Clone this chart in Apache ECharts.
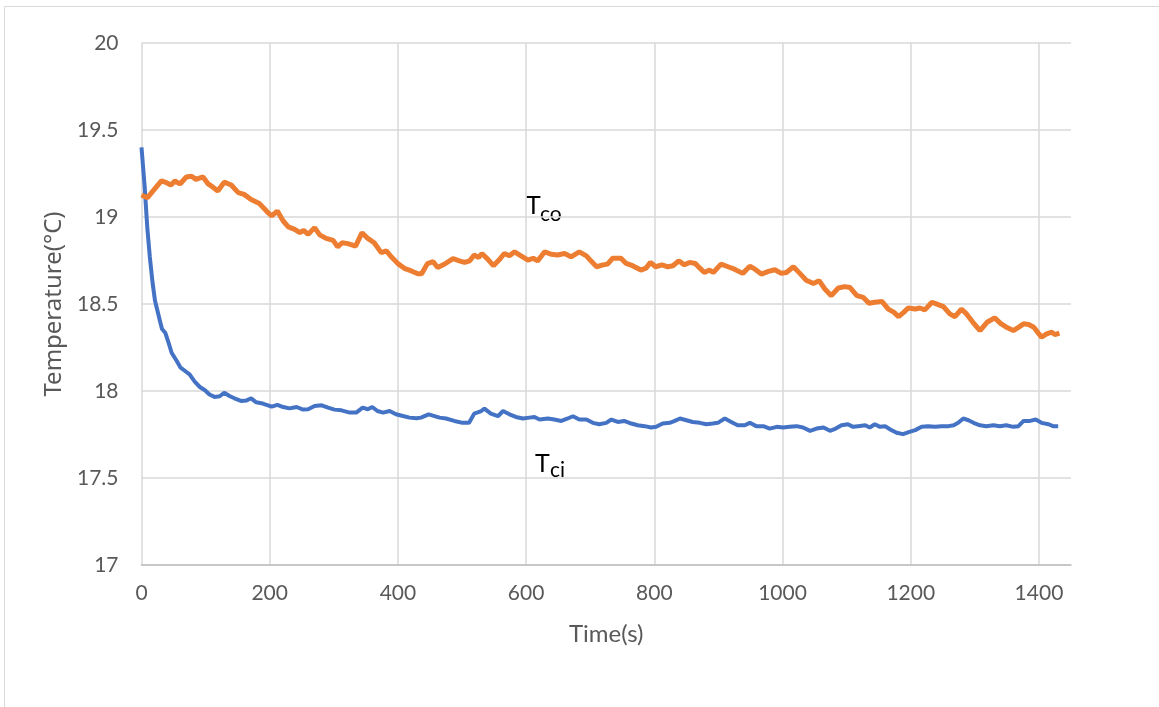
<!DOCTYPE html>
<html>
<head>
<meta charset="utf-8">
<script src="https://cdn.jsdelivr.net/npm/echarts@6/dist/echarts.min.js"></script>
<style>
html,body{margin:0;padding:0;background:#fff;}
#chart{width:1159px;height:707px;}
</style>
</head>
<body>
<div id="chart"></div>
<script>
// ---- Data ----
const xTicks = [0, 200, 400, 600, 800, 1000, 1200, 1400];
const yTicks = [17, 17.5, 18, 18.5, 19, 19.5, 20];

const tcoTime = [0, 9, 18, 31, 39, 46, 52, 60, 70, 78, 85, 96, 104, 112, 119, 129, 140, 151, 160, 171, 184, 195, 203, 212, 221, 229, 239, 247, 253, 260, 270, 278, 288, 299, 306, 313, 322, 334, 344, 353, 363, 374, 382, 390, 400, 410, 421, 431, 437, 446, 455, 462, 473, 486, 496, 504, 512, 519, 526, 531, 540, 549, 558, 566, 574, 582, 592, 603, 611, 618, 629, 639, 649, 660, 670, 683, 694, 701, 710, 720, 727, 735, 748, 756, 766, 779, 787, 794, 802, 812, 821, 829, 838, 847, 855, 864, 871, 878, 886, 892, 904, 915, 925, 938, 949, 957, 967, 978, 988, 998, 1006, 1017, 1027, 1037, 1048, 1057, 1066, 1076, 1087, 1097, 1105, 1116, 1126, 1135, 1144, 1155, 1165, 1174, 1181, 1189, 1196, 1207, 1214, 1222, 1233, 1243, 1251, 1261, 1269, 1279, 1287, 1297, 1308, 1319, 1331, 1340, 1351, 1360, 1368, 1376, 1384, 1392, 1398, 1404, 1412, 1420, 1425, 1432];
const tcoTemp = [19.126, 19.11, 19.15, 19.207, 19.197, 19.184, 19.207, 19.19, 19.23, 19.234, 19.216, 19.23, 19.19, 19.17, 19.15, 19.20, 19.184, 19.14, 19.13, 19.10, 19.077, 19.034, 19.006, 19.034, 18.977, 18.943, 18.929, 18.91, 18.923, 18.90, 18.939, 18.897, 18.877, 18.866, 18.828, 18.852, 18.847, 18.833, 18.91, 18.877, 18.852, 18.795, 18.805, 18.77, 18.732, 18.705, 18.69, 18.674, 18.674, 18.732, 18.743, 18.71, 18.73, 18.761, 18.748, 18.739, 18.748, 18.782, 18.767, 18.79, 18.758, 18.72, 18.754, 18.79, 18.777, 18.80, 18.777, 18.752, 18.763, 18.748, 18.80, 18.786, 18.782, 18.79, 18.771, 18.80, 18.777, 18.748, 18.714, 18.725, 18.729, 18.763, 18.763, 18.733, 18.72, 18.695, 18.706, 18.739, 18.714, 18.725, 18.714, 18.72, 18.748, 18.725, 18.739, 18.733, 18.706, 18.681, 18.695, 18.681, 18.729, 18.714, 18.70, 18.676, 18.717, 18.70, 18.672, 18.687, 18.697, 18.676, 18.681, 18.714, 18.676, 18.637, 18.618, 18.634, 18.586, 18.548, 18.592, 18.60, 18.595, 18.548, 18.538, 18.504, 18.51, 18.515, 18.471, 18.452, 18.427, 18.452, 18.477, 18.471, 18.477, 18.466, 18.51, 18.496, 18.485, 18.443, 18.427, 18.471, 18.443, 18.395, 18.347, 18.395, 18.42, 18.389, 18.363, 18.347, 18.366, 18.386, 18.382, 18.366, 18.338, 18.309, 18.328, 18.338, 18.324, 18.332];

const tciTime = [0, 5, 9, 13, 17, 21, 25, 29, 32, 37, 42, 47, 55, 61, 68, 75, 83, 91, 99, 106, 114, 122, 129, 138, 145, 155, 164, 171, 179, 187, 195, 203, 212, 221, 231, 242, 252, 260, 270, 281, 291, 301, 312, 325, 335, 345, 353, 360, 368, 377, 387, 397, 408, 418, 429, 436, 448, 457, 465, 475, 488, 501, 511, 519, 530, 535, 545, 556, 564, 574, 584, 595, 605, 613, 621, 634, 644, 655, 665, 673, 683, 694, 704, 714, 725, 733, 743, 753, 764, 774, 785, 795, 803, 813, 824, 832, 840, 850, 860, 871, 881, 891, 899, 910, 920, 930, 941, 949, 959, 970, 980, 991, 1001, 1011, 1022, 1032, 1043, 1053, 1064, 1074, 1083, 1092, 1102, 1110, 1118, 1129, 1136, 1144, 1152, 1160, 1168, 1178, 1188, 1198, 1207, 1217, 1227, 1238, 1248, 1259, 1267, 1274, 1282, 1290, 1298, 1308, 1318, 1329, 1339, 1349, 1360, 1368, 1376, 1386, 1395, 1404, 1415, 1422, 1430];
const tciTemp = [19.40, 19.17, 18.94, 18.77, 18.63, 18.52, 18.46, 18.40, 18.356, 18.335, 18.28, 18.22, 18.172, 18.134, 18.115, 18.096, 18.054, 18.023, 18.004, 17.98, 17.966, 17.97, 17.99, 17.97, 17.958, 17.943, 17.946, 17.958, 17.935, 17.93, 17.92, 17.91, 17.92, 17.908, 17.90, 17.908, 17.893, 17.895, 17.914, 17.918, 17.904, 17.893, 17.889, 17.876, 17.876, 17.904, 17.895, 17.908, 17.885, 17.876, 17.885, 17.866, 17.856, 17.847, 17.843, 17.847, 17.866, 17.856, 17.847, 17.842, 17.828, 17.817, 17.817, 17.87, 17.885, 17.899, 17.87, 17.855, 17.885, 17.866, 17.851, 17.842, 17.847, 17.851, 17.836, 17.842, 17.836, 17.828, 17.842, 17.855, 17.836, 17.836, 17.817, 17.809, 17.817, 17.836, 17.822, 17.828, 17.813, 17.803, 17.798, 17.79, 17.794, 17.813, 17.817, 17.828, 17.842, 17.832, 17.822, 17.817, 17.809, 17.813, 17.817, 17.842, 17.822, 17.803, 17.803, 17.817, 17.798, 17.798, 17.784, 17.794, 17.79, 17.794, 17.798, 17.79, 17.771, 17.784, 17.79, 17.771, 17.784, 17.803, 17.809, 17.794, 17.798, 17.803, 17.79, 17.809, 17.794, 17.798, 17.779, 17.76, 17.752, 17.765, 17.775, 17.794, 17.798, 17.794, 17.798, 17.798, 17.803, 17.817, 17.842, 17.832, 17.817, 17.803, 17.798, 17.803, 17.798, 17.803, 17.794, 17.798, 17.828, 17.828, 17.836, 17.817, 17.809, 17.798, 17.798];

const xName = 'Time(s)';
const yName = 'Temperature(°C)';

const tcoData = tcoTime.map((t, i) => [t, tcoTemp[i]]);
const tciData = tciTime.map((t, i) => [t, tciTemp[i]]);

const chart = echarts.init(document.getElementById('chart'), null, {renderer: 'canvas'});
const labelColor = '#595959';
const gridColor = '#d9d9d9';

chart.setOption({
  animation: false,
  backgroundColor: '#ffffff',
  grid: {left: 141.5, right: 88, top: 43, bottom: 142, containLabel: false},
  xAxis: {
    type: 'value',
    min: 0, max: 1450, interval: 200,
    name: xName, nameLocation: 'middle', nameGap: 57,
    nameTextStyle: {fontFamily: 'Lato', fontSize: 24, color: labelColor},
    axisLine: {show: true, lineStyle: {color: '#bfbfbf', width: 1.5}},
    axisTick: {show: false},
    axisLabel: {showMaxLabel: false, margin: 18, fontFamily: 'Lato', fontSize: 21, color: labelColor,
      formatter: v => xTicks.includes(v) ? String(v) : ''},
    splitLine: {show: true, showMaxLine: false, lineStyle: {color: gridColor, width: 1.5}}
  },
  yAxis: {
    type: 'value',
    min: 17, max: 20, interval: 0.5,
    name: yName, nameLocation: 'middle', nameGap: 74,
    nameTextStyle: {fontFamily: 'Noto Sans', fontSize: 24, color: labelColor},
    axisLine: {show: false},
    axisTick: {show: false},
    axisLabel: {margin: 23, fontFamily: 'Lato', fontSize: 21, color: labelColor,
      formatter: v => yTicks.includes(v) ? String(v) : ''},
    splitLine: {show: true, lineStyle: {color: gridColor, width: 1.5}}
  },
  series: [
    {name: 'Tci', type: 'line', data: tciData, showSymbol: false, smooth: false,
      lineStyle: {color: '#4472C4', width: 4}, itemStyle: {color: '#4472C4'}, z: 3},
    {name: 'Tco', type: 'line', data: tcoData, showSymbol: false, smooth: false,
      lineStyle: {color: '#ED7D31', width: 5}, itemStyle: {color: '#ED7D31'}, z: 4}
  ],
  graphic: [
    {type: 'rect', silent: true, shape: {x: 4.5, y: 6.5, width: 1200, height: 800},
      style: {fill: 'none', stroke: '#d9d9d9', lineWidth: 1}},
    {type: 'text', left: 526, top: 193, style: {text: 'T', font: '25px Lato', fill: '#000'}},
    {type: 'text', left: 540, top: 204, style: {text: 'co', font: '21px Lato', fill: '#000'}},
    {type: 'text', left: 535, top: 451, style: {text: 'T', font: '25px Lato', fill: '#000'}},
    {type: 'text', left: 550, top: 460, style: {text: 'ci', font: '21px Lato', fill: '#000'}}
  ]
});
</script>
</body>
</html>
